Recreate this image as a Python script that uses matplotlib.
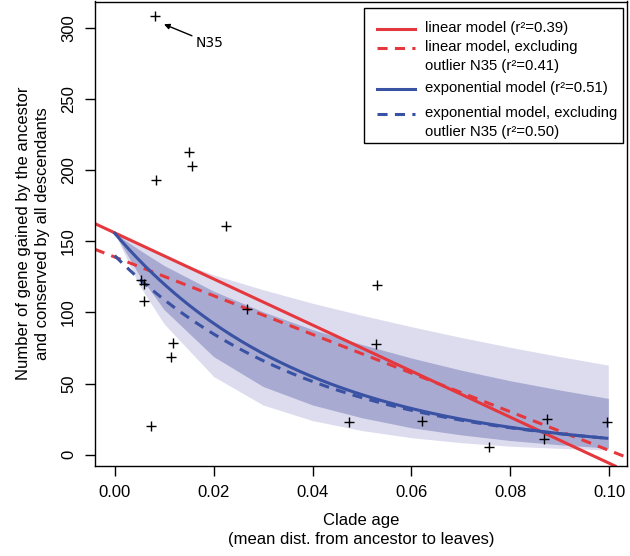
import numpy as np
import matplotlib
matplotlib.use("Agg")
import matplotlib.pyplot as plt
from matplotlib.lines import Line2D
from matplotlib.patches import Rectangle

# clade age vs genes gained by the ancestor and kept by all descendants
clade_age = [0.00815, 0.01496, 0.01557, 0.00841, 0.0225, 0.00532, 0.00598,
             0.00598, 0.0268, 0.01185, 0.01132, 0.00728, 0.0473, 0.0530,
             0.0528, 0.0621, 0.0756, 0.0875, 0.0867, 0.0995]
genes_kept = [308.4, 212.6, 203.2, 193.3, 161.1, 122.6, 119.8, 108.3, 102.2,
              78.3, 68.7, 20.2, 23.2, 119.5, 78.0, 23.9, 5.2, 25.3, 11.2, 23.0]

# fitted models: (intercept, slope) and (amplitude, rate)
lin_all = (156.0, -1620.0)
lin_excl = (139.0, -1360.0)
exp_all = (155.7, 26.1)
exp_excl = (140.0, 25.0)

# envelopes of the exponential model (outer = light, inner = dark)
band_x = [0.0, 0.005, 0.01, 0.02, 0.03, 0.04, 0.05, 0.06, 0.07, 0.08, 0.09, 0.0998]
outer_hi = [155.7, 147.0, 139.5, 126.5, 116.0, 106.5, 98.0, 90.0, 82.5, 75.5, 69.0, 63.0]
inner_hi = [155.7, 144.0, 133.0, 115.0, 100.5, 88.0, 77.5, 68.0, 59.5, 52.0, 45.5, 39.6]
inner_lo = [155.7, 126.0, 102.0, 69.0, 48.0, 35.0, 26.0, 19.0, 14.0, 10.0, 7.0, 4.7]
outer_lo = [155.7, 119.0, 92.0, 55.0, 35.0, 24.0, 17.0, 12.0, 8.5, 6.0, 4.5, 3.3]

labels = ["linear model (r²=0.39)",
          "linear model, excluding\noutlier N35 (r²=0.41)",
          "exponential model (r²=0.51)",
          "exponential model, excluding\noutlier N35 (r²=0.50)"]

RED = "#e5383e"
BLUE = "#3a52a3"
LIGHT = "#dcdcee"
DARK = "#a8aad1"

plt.rcParams['font.family'] = ['Liberation Sans', 'DejaVu Sans']

fig = plt.figure(figsize=(6.3, 5.56), dpi=100)
ax = fig.add_axes([95 / 630, 1 - 466 / 556, 532 / 630, 464.5 / 556])

ax.fill_between(band_x, outer_lo, outer_hi, color=LIGHT, lw=0)
ax.fill_between(band_x, inner_lo, inner_hi, color=DARK, lw=0)

dash = (0, (3.3, 2.4))
ax.axline((0, lin_all[0]), slope=lin_all[1], color=RED, lw=2.2)
ax.axline((0, lin_excl[0]), slope=lin_excl[1], color=RED, lw=2.2, ls=dash)

xs = np.linspace(0, max(clade_age), 200)
ax.plot(xs, exp_all[0] * np.exp(-exp_all[1] * xs), color=BLUE, lw=2.2)
ax.plot(xs, exp_excl[0] * np.exp(-exp_excl[1] * xs), color=BLUE, lw=2.2, ls=dash)

ax.plot(clade_age, genes_kept, ls='none', marker='+', color='black', ms=7, mew=1)

ax.annotate("N35", xy=(0.00997, 302.6), xytext=(0.01644, 289.3),
            ha='left', va='center', fontsize=10, family='DejaVu Sans',
            arrowprops=dict(arrowstyle='-|>', color='black', lw=1,
                            mutation_scale=8, shrinkA=1, shrinkB=0))

ax.set_xlim(-0.00398, 0.10358)
ax.set_ylim(-7.9, 318.6)
ax.set_xticks([0.0, 0.02, 0.04, 0.06, 0.08, 0.10])
ax.set_xticklabels(["0.00", "0.02", "0.04", "0.06", "0.08", "0.10"])
ax.set_yticks([0, 50, 100, 150, 200, 250, 300])
ax.tick_params(direction='out', length=7.5, width=1, labelsize=12, pad=6)
ax.tick_params(axis='y', labelrotation=90)
for lab in ax.get_yticklabels():
    lab.set_va('center')
for sp in ax.spines.values():
    sp.set_linewidth(1)

fig.text(361 / 630, 1 - 530 / 556, "Clade age\n(mean dist. from ancestor to leaves)",
         ha='center', va='center', fontsize=12, linespacing=1.3)
fig.text(33 / 630, 1 - 233.7 / 556,
         "Number of gene gained by the ancestor\nand conserved by all descendants",
         ha='center', va='center', rotation=90, fontsize=12, linespacing=1.3)

# legend drawn by hand so the line sits on the first row of each entry
box = Rectangle((364 / 630, 1 - 143 / 556), 259 / 630, 135 / 556,
                transform=fig.transFigure, fill=True, facecolor='white',
                edgecolor='black', lw=1, zorder=5)
fig.add_artist(box)
rows = [29.3, 48.3, 89.3, 114.0]
styles = [(RED, '-'), (RED, dash), (BLUE, '-'), (BLUE, dash)]
for y, (c, ls), lab in zip(rows, styles, labels):
    yf = 1 - y / 556
    fig.add_artist(Line2D([377 / 630, 415 / 630], [yf, yf], color=c, lw=2.2,
                          ls=ls, transform=fig.transFigure, zorder=6))
    fig.text(425 / 630, yf + 8 / 556, lab, ha='left', va='top', fontsize=10.7,
             linespacing=1.45, zorder=6)

fig.savefig("out.png", dpi=100)
